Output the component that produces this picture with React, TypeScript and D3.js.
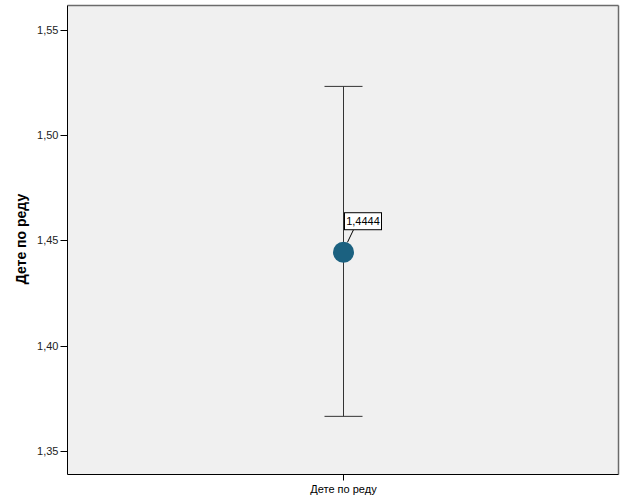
import React from "react";
import * as d3 from "d3";

const categories = ["Дете по реду"];
const means = [1.4444];
const lower = [1.3665];
const upper = [1.5231];
const yTicks = [1.35, 1.4, 1.45, 1.5, 1.55];
const yTitle = "Дете по реду";

export default function App() {
  const W = 626, H = 501;
  const left = 67.5, right = 618.5, top = 5.5, bottom = 474.5;
  const y = d3.scaleLinear().domain([1.3389, 1.5615]).range([bottom, top]);
  const x = d3.scaleBand().domain(categories).range([left, right]).padding(0);
  const fmt = (v: number) => d3.format(".2f")(v).replace(".", ",");
  const fmt4 = (v: number) => d3.format(".4f")(v).replace(".", ",");
  const font = "Arial, 'Liberation Sans', sans-serif";
  return (
    <svg width={W} height={H} style={{ position: "absolute", left: 0, top: 0 }} fontFamily={font}>
      <rect x={0} y={0} width={W} height={H} fill="#fff" />
      <rect x={left} y={top} width={right - left} height={bottom - top} fill="#f0f0f0" />
      <line x1={left} x2={right} y1={top} y2={top} stroke="#6b6b6b" strokeWidth={1.5} />
      <line x1={right} x2={right} y1={top} y2={bottom} stroke="#6b6b6b" strokeWidth={1.5} />
      <line x1={left} x2={left} y1={top} y2={bottom} stroke="#000" />
      <line x1={left} x2={right} y1={bottom} y2={bottom} stroke="#000" />
      {yTicks.map((t) => (
        <g key={t}>
          <line x1={left - 7} x2={left} y1={Math.round(y(t)) + 0.5} y2={Math.round(y(t)) + 0.5} stroke="#000" />
          <text x={left - 9} y={y(t) + 4} textAnchor="end" fontSize={11} fill="#222">{fmt(t)}</text>
        </g>
      ))}
      <text transform={`translate(26,239) rotate(-90)`} textAnchor="middle" fontSize={14} fontWeight="bold" fill="#000">{yTitle}</text>
      {categories.map((c, i) => {
        const cx = Math.round(x(c)! + x.bandwidth() / 2) + 0.5;
        const cy = y(means[i]);
        return (
          <g key={c}>
            <line x1={cx} x2={cx} y1={bottom} y2={bottom + 6} stroke="#000" />
            <text x={cx} y={bottom + 18} textAnchor="middle" fontSize={11} fill="#000">{c}</text>
            <line x1={cx} x2={cx} y1={y(upper[i])} y2={y(lower[i])} stroke="#333" />
            <line x1={cx - 19} x2={cx + 19} y1={y(upper[i])} y2={y(upper[i])} stroke="#333" />
            <line x1={cx - 19} x2={cx + 19} y1={y(lower[i])} y2={y(lower[i])} stroke="#333" />
            <circle cx={cx} cy={cy} r={10.5} fill="#1b6180" />
            <line x1={cx + 4} x2={cx + 10} y1={cy - 10} y2={cy - 22.5} stroke="#000" />
            <rect x={cx + 1} y={cy - 39.5} width={37} height={17} fill="#fff" stroke="#000" />
            <text x={cx + 19.5} y={cy - 27} textAnchor="middle" fontSize={11} fill="#000">{fmt4(means[i])}</text>
          </g>
        );
      })}
    </svg>
  );
}
